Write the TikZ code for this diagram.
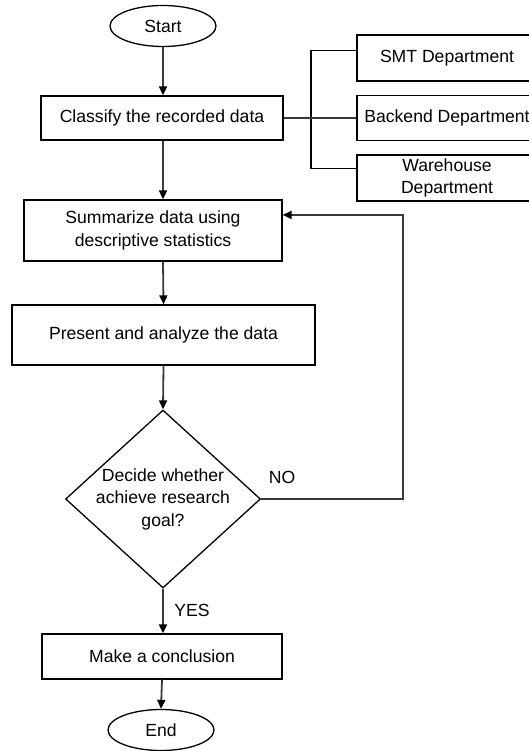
\documentclass[tikz,border=0pt]{standalone}
\usepackage{fontspec}
\setmainfont{Liberation Sans}
\usetikzlibrary{shapes.geometric,arrows.meta,calc}
\definecolor{linegray}{HTML}{3A3A3A}
\tikzset{
  base/.style={draw=black, line width=1.3pt, inner sep=0pt, align=center,
    font=\fontsize{17.6pt}{22.5pt}\selectfont},
  terminal/.style={base, ellipse, minimum width=106pt, minimum height=41pt},
  process/.style={base, rectangle},
  decision/.style={base, diamond, minimum width=195pt, minimum height=178pt},
  arrow/.style={draw=linegray, line width=1.8pt,
    -{Triangle[length=9pt,width=8pt,color=black]}},
  plain/.style={draw=linegray, line width=1.8pt},
  bracket/.style={draw=black, line width=1.3pt},
  tag/.style={font=\fontsize{17.6pt}{22.5pt}\selectfont, inner sep=0pt}
}
\begin{document}
\begin{tikzpicture}[x=1pt, y=-1pt]
  \useasboundingbox (0,0) rectangle (529,751);
  \clip (0,0) rectangle (529,751);

  % main flow
  \node[terminal] (start) at (163,26) {Start};
  \node[process, minimum width=242pt, minimum height=44pt] (classify) at (162,118) {Classify the recorded data};
  \node[process, minimum width=258pt, minimum height=61pt] (summarize) at (153,230.5) {Summarize data using\\descriptive statistics};
  \node[process, minimum width=303pt, minimum height=60pt] (present) at (163.5,335) {Present and analyze the data};
  \node[decision] (decide) at (163,499) {};
  \node[tag, align=center] (decidetext) at (decide.center) {Decide whether\\achieve research\\goal?};
  \node[process, minimum width=240pt, minimum height=45pt] (conclusion) at (162,656.5) {Make a conclusion};
  \node[terminal] (end) at (161,730) {End};

  % departments
  \node[process, minimum width=180pt, minimum height=46pt] (smt) at (447,58) {SMT Department};
  \node[process, minimum width=180pt, minimum height=45pt] (backend) at (447,118) {Backend Department};
  \node[process, minimum width=180pt, minimum height=46pt] (warehouse) at (447,178) {Warehouse\\Department};

  % connectors of the main flow
  \draw[arrow] (start.south -| 163,0) -- (163,0 |- classify.north);
  \draw[arrow] (163,0 |- classify.south) -- (163,0 |- summarize.north);
  \draw[arrow] (163,0 |- summarize.south) -- (present.north);
  \draw[arrow] (present.south) -- (decide.north);
  \draw[arrow] (decide.south) -- (decide.south |- conclusion.north);
  \draw[arrow] (162,0 |- conclusion.south) -- (end.north);

  % NO loop back to the summary step
  \coordinate (loopcorner) at (403,499);
  \coordinate (loopin) at ($(summarize.north east)!0.25!(summarize.south east)$);
  \draw[arrow] (decide.east) -- (loopcorner) |- (loopin);
  \node[tag] (nolabel) at (282,477) {NO};
  \node[tag] (yeslabel) at (192,610) {YES};

  % grouping of the recorded data
  \coordinate (smtjoin) at ($(smt.north west)!0.348!(smt.south west)$);
  \coordinate (whjoin) at ($(warehouse.north west)!0.30!(warehouse.south west)$);
  \coordinate (brtop) at (311,0 |- smtjoin);
  \coordinate (brbot) at (311,0 |- whjoin);
  \draw[bracket] (smtjoin) -- (brtop) -- (brbot) -- (whjoin);
  \draw[plain] (classify.east) -- (backend.west);
\end{tikzpicture}
\end{document}
